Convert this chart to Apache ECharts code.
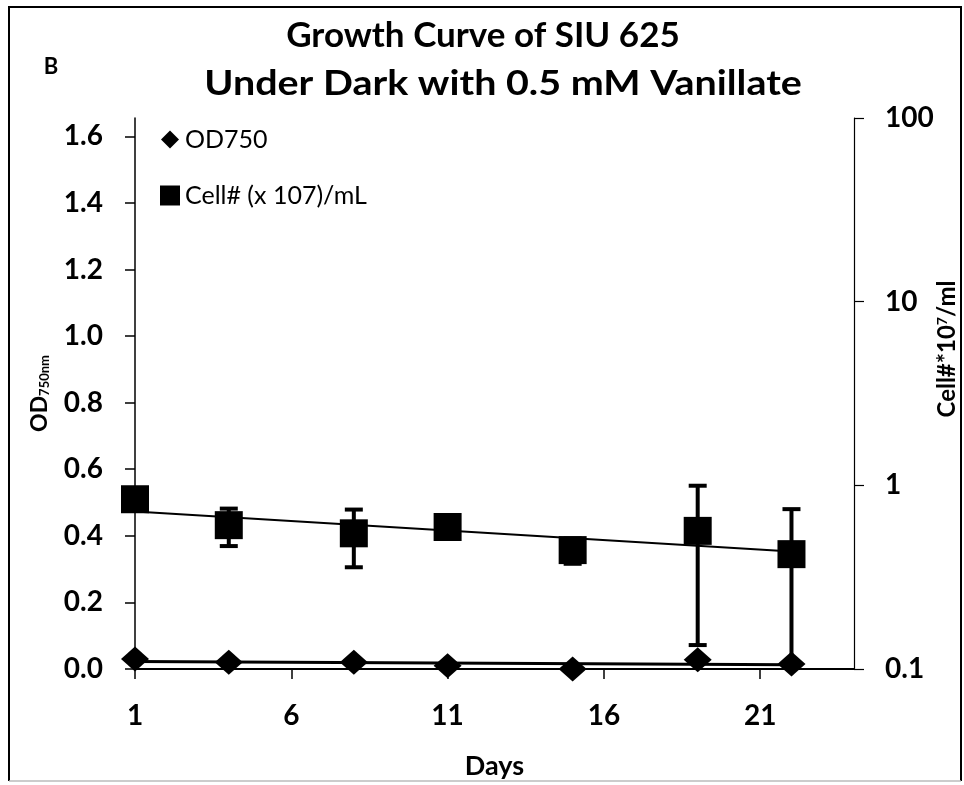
<!DOCTYPE html>
<html><head><meta charset="utf-8">
<script src="https://cdn.jsdelivr.net/npm/echarts@6/dist/echarts.min.js"></script>
<style>html,body{margin:0;padding:0;background:#fff}#c{width:964px;height:785px}</style>
</head><body><div id="c"></div>
<script>
// ---- data ----
const days = [1, 4, 8, 11, 15, 19, 22];
const od750 = [0.030, 0.020, 0.020, 0.010, 0.000, 0.028, 0.015];
const cells = [0.84, 0.607, 0.548, 0.593, 0.444, 0.565, 0.422];
const cellErr = [0.05, 0.14, 0.19, 0.04, 0.07, 0.43, 0.32];
const xTicks = [1, 6, 11, 16, 21];
const yLeftTicks = [0, 0.2, 0.4, 0.6, 0.8, 1.0, 1.2, 1.4, 1.6];
const yRightTicks = [0.1, 1, 10, 100];
const titleLines = ['Growth Curve of SIU 625', 'Under Dark with 0.5 mM Vanillate'];

// least-squares fit helpers (trendlines)
function linFit(xs, ys) {
  const n = xs.length;
  const mx = xs.reduce((a, b) => a + b, 0) / n;
  const my = ys.reduce((a, b) => a + b, 0) / n;
  let sxy = 0, sxx = 0;
  for (let i = 0; i < n; i++) { sxy += (xs[i] - mx) * (ys[i] - my); sxx += (xs[i] - mx) ** 2; }
  const b = sxy / sxx;
  return { a: my - b * mx, b };
}
const x0 = days[0], x1 = days[days.length - 1];
const odFit = linFit(days, od750);
const odTrend = [[x0, odFit.a + odFit.b * x0], [x1, odFit.a + odFit.b * x1]];
const cFit = linFit(days, cells.map(Math.log));
const cellTrend = [[x0, Math.exp(cFit.a + cFit.b * x0)], [x1, Math.exp(cFit.a + cFit.b * x1)]];

const FONT = 'Lato';
const lbl = { fontFamily: FONT, fontWeight: 'bold', fontSize: 28, color: '#000' };

const chart = echarts.init(document.getElementById('c'), null, { renderer: 'canvas' });
chart.setOption({
  animation: false,
  backgroundColor: '#fff',
  grid: { left: 135, top: 118, width: 719, height: 552 },
  legend: {
    orient: 'vertical', left: 155, top: 122, itemGap: 31,
    itemWidth: 20, itemHeight: 20,
    textStyle: { fontFamily: FONT, fontSize: 25, color: '#000' },
    data: [
      { name: 'OD750', icon: 'path://M0,0 M20,20 M10,1 L19,10 L10,19 L1,10 Z', itemStyle: { color: '#000', opacity: 1 } },
      { name: 'Cell# (x 107)/mL', icon: 'rect', itemStyle: { color: '#000', opacity: 1 } }
    ]
  },
  xAxis: {
    type: 'value', min: 1, max: 24,
    name: 'Days', nameLocation: 'middle', nameGap: 84,
    nameTextStyle: { fontFamily: FONT, fontWeight: 'bold', fontSize: 27, color: '#000' },
    axisLine: { onZero: false, lineStyle: { color: '#000', width: 2 } },
    axisTick: { show: true, length: 10, lineStyle: { color: '#000', width: 1.5 }, customValues: xTicks },
    axisLabel: Object.assign({ margin: 33, customValues: xTicks }, lbl),
    splitLine: { show: false }
  },
  yAxis: [
    {
      type: 'value', min: 0, max: 1.655, position: 'left',
      name: '{a|OD}{b|750nm}', nameLocation: 'middle', nameRotate: 90, nameGap: 84,
      nameTextStyle: {
        rich: {
          a: { fontFamily: FONT, fontWeight: 'bold', fontSize: 23, color: '#000' },
          b: { fontFamily: FONT, fontWeight: 'bold', fontSize: 13, color: '#000', verticalAlign: 'bottom' }
        }
      },
      axisLine: { show: true, lineStyle: { color: '#000', width: 1.5 } },
      axisTick: { show: true, length: 10, lineStyle: { color: '#000', width: 1.5 }, customValues: yLeftTicks },
      axisLabel: Object.assign({ margin: 32, customValues: yLeftTicks, formatter: v => v.toFixed(1) }, lbl),
      splitLine: { show: false }
    },
    {
      type: 'log', logBase: 10, min: 0.1, max: 100, position: 'right',
      axisLine: { show: true, lineStyle: { color: '#000', width: 1.2 } },
      axisTick: { show: true, length: 10, lineStyle: { color: '#000', width: 1.2 }, customValues: yRightTicks },
      axisLabel: Object.assign({ margin: 31, customValues: yRightTicks, formatter: v => String(+v.toPrecision(3)) }, lbl),
      splitLine: { show: false }, minorTick: { show: false }
    }
  ],
  series: [
    {
      name: 'OD750 trend', type: 'line', yAxisIndex: 0, data: odTrend,
      showSymbol: false, symbol: 'none', lineStyle: { color: '#000', width: 3 }, z: 2, silent: true
    },
    {
      name: 'Cell trend', type: 'line', yAxisIndex: 1, data: cellTrend,
      showSymbol: false, symbol: 'none', lineStyle: { color: '#000', width: 2 }, z: 2, silent: true
    },
    {
      name: 'Cell err', type: 'custom', yAxisIndex: 1, z: 3,
      data: days.map((d, i) => [d, cells[i], cellErr[i]]),
      renderItem(params, api) {
        const x = api.value(0), v = api.value(1), e = api.value(2);
        const hi = v + e, loRaw = v - e, lo = Math.max(loRaw, 0.1);
        const pH = api.coord([x, hi]), pL = api.coord([x, lo]);
        const st = { stroke: '#000', lineWidth: 4 };
        const ch = [
          { type: 'line', shape: { x1: pH[0], y1: pH[1], x2: pL[0], y2: pL[1] }, style: st },
          { type: 'line', shape: { x1: pH[0] - 9, y1: pH[1], x2: pH[0] + 9, y2: pH[1] }, style: st }
        ];
        if (loRaw >= 0.1) ch.push({ type: 'line', shape: { x1: pL[0] - 9, y1: pL[1], x2: pL[0] + 9, y2: pL[1] }, style: st });
        return { type: 'group', children: ch };
      }
    },
    {
      name: 'OD750', type: 'scatter', yAxisIndex: 0, symbol: 'diamond', symbolSize: [28, 25],
      itemStyle: { color: '#000', opacity: 1 }, data: days.map((d, i) => [d, od750[i]]), z: 5
    },
    {
      name: 'Cell# (x 107)/mL', type: 'scatter', yAxisIndex: 1, symbol: 'rect', symbolSize: 28,
      itemStyle: { color: '#000', opacity: 1 }, data: days.map((d, i) => [d, cells[i]]), z: 5
    }
  ],
  graphic: [
    { type: 'polyline', shape: { points: [[9, 781], [9, 7], [961, 7], [961, 781]] }, style: { stroke: '#000', lineWidth: 2, fill: null }, silent: true },
    { type: 'line', shape: { x1: 9, y1: 781, x2: 961, y2: 781 }, style: { stroke: '#bbb', lineWidth: 1.5 }, silent: true },
    { type: 'text', x: 51, y: 67, style: { text: 'B', fontFamily: FONT, fontWeight: 'bold', fontSize: 22, fill: '#000', align: 'center', verticalAlign: 'middle' } },
    { type: 'text', x: 483, y: 36, scaleX: 1.03, style: { text: titleLines[0], fontFamily: FONT, fontWeight: 'bold', fontSize: 34, fill: '#000', align: 'center', verticalAlign: 'middle' } },
    { type: 'text', x: 503, y: 84, scaleX: 1.16, style: { text: titleLines[1], fontFamily: FONT, fontWeight: 'bold', fontSize: 34, fill: '#000', align: 'center', verticalAlign: 'middle' } },
    {
      type: 'text', x: 947, y: 349, rotation: Math.PI / 2,
      style: {
        text: '{a|Cell#*10}{s|7}{a|/ml}', align: 'center', verticalAlign: 'middle',
        rich: {
          a: { fontFamily: FONT, fontWeight: 'bold', fontSize: 24, fill: '#000' },
          s: { fontFamily: FONT, fontWeight: 'bold', fontSize: 14, fill: '#000', verticalAlign: 'top' }
        }
      }
    }
  ]
});
</script></body></html>
